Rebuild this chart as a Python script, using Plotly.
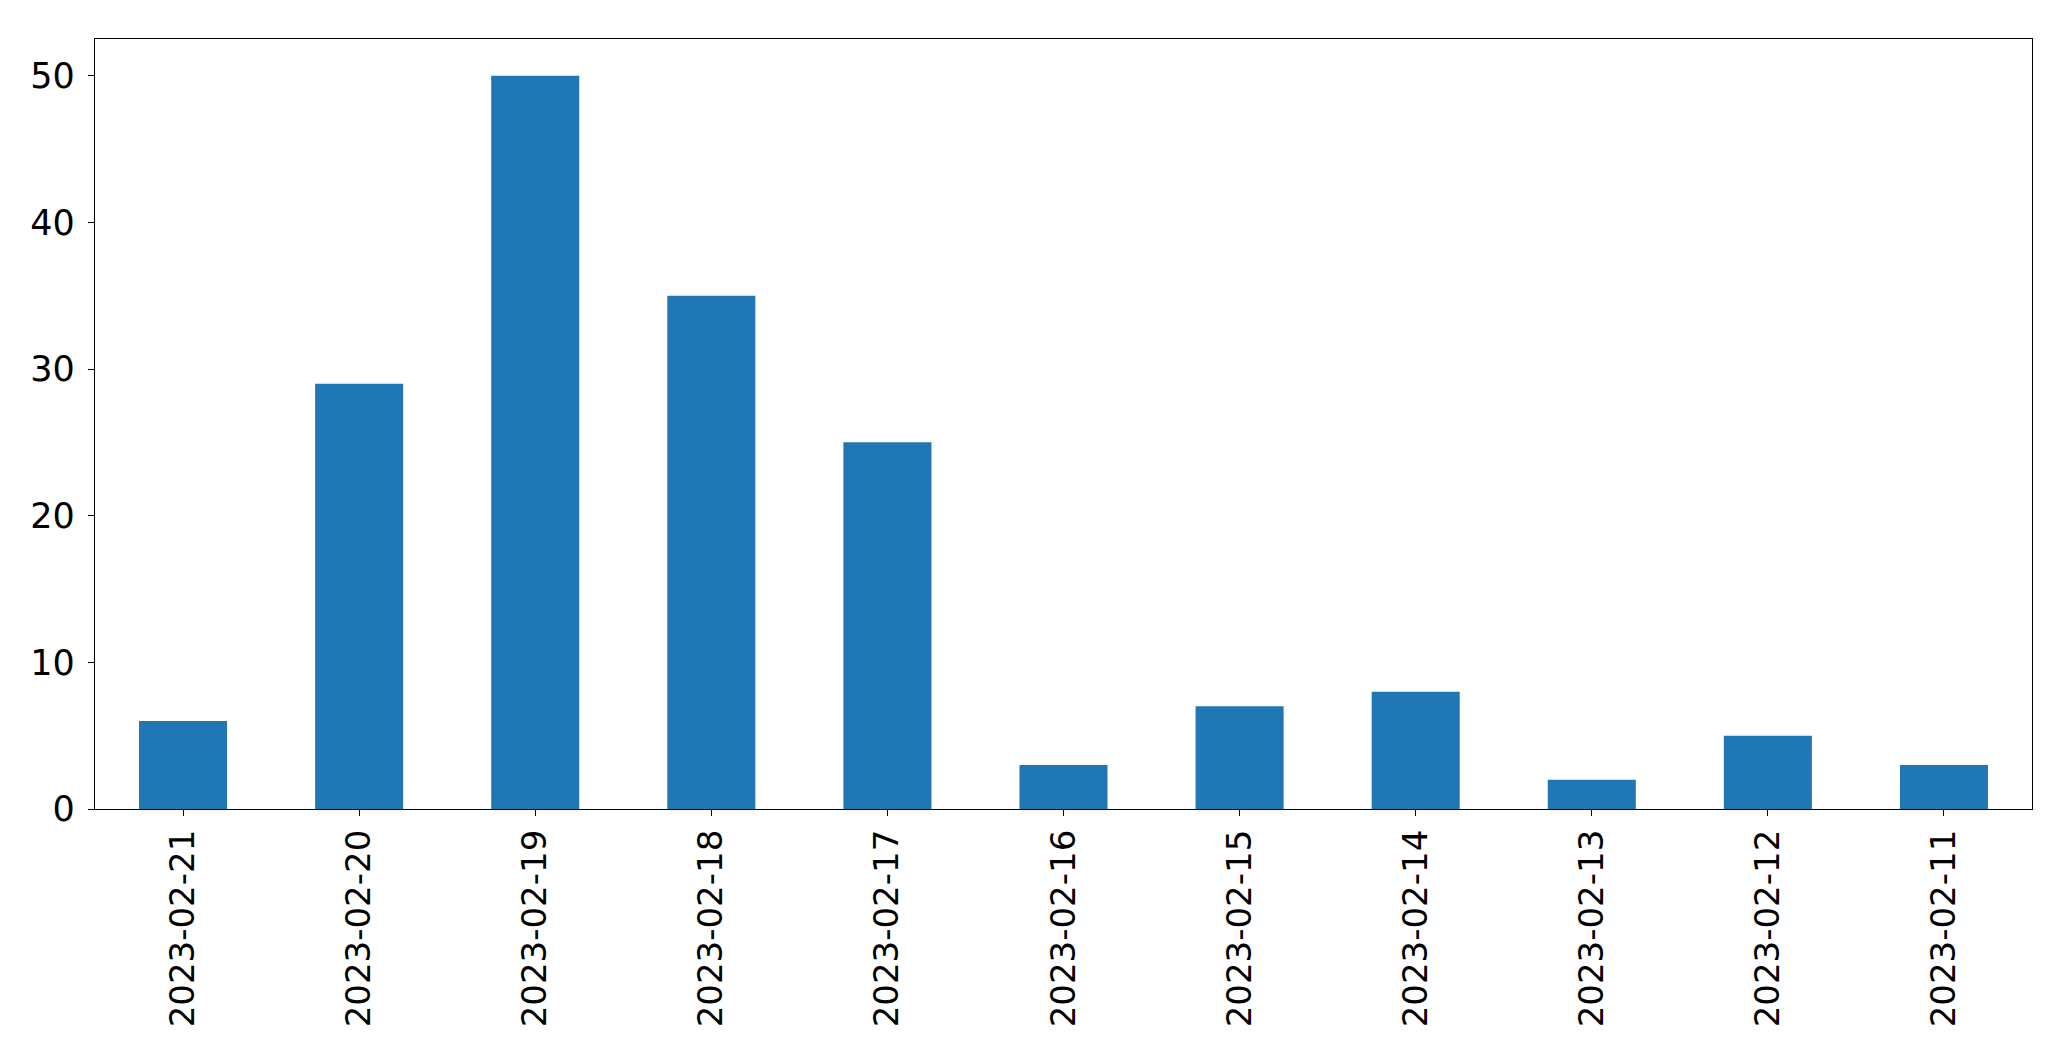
import plotly.graph_objects as go

dates = ["2023-02-21", "2023-02-20", "2023-02-19", "2023-02-18", "2023-02-17",
         "2023-02-16", "2023-02-15", "2023-02-14", "2023-02-13", "2023-02-12", "2023-02-11"]
counts = [6, 29, 50, 35, 25, 3, 7, 8, 2, 5, 3]
y_ticks = [0, 10, 20, 30, 40, 50]

# page body has an 8px default margin; size figure to fit the window
W, H = 2055, 1045
fig = go.Figure(go.Bar(
    x=list(range(len(dates))), y=counts, width=0.5,
    marker=dict(color="#1f77b4", line=dict(width=0)),
))
fig.update_layout(
    width=W, height=H,
    margin=dict(l=87, r=31, t=31, b=244, autoexpand=False),
    paper_bgcolor="white", plot_bgcolor="white",
    font=dict(family="DejaVu Sans", size=35, color="black"),
    showlegend=False,
)
fig.update_xaxes(
    range=[-0.5, len(dates) - 0.5],
    tickmode="array", tickvals=list(range(len(dates))), ticktext=dates,
    tickangle=-90, ticks="outside", ticklen=6, tickwidth=1.3, tickcolor="black",
    showline=True, linecolor="black", linewidth=1.3, mirror=True,
    showgrid=False, zeroline=False, ticklabelstandoff=0,
    tickfont=dict(size=34),
)
fig.update_yaxes(
    range=[0, 52.5],
    tickmode="array", tickvals=y_ticks,
    ticks="outside", ticklen=6, tickwidth=1.3, tickcolor="black",
    showline=True, linecolor="black", linewidth=1.3, mirror=True,
    showgrid=False, zeroline=False, ticklabelstandoff=6,
)
fig.write_html("out.html")
